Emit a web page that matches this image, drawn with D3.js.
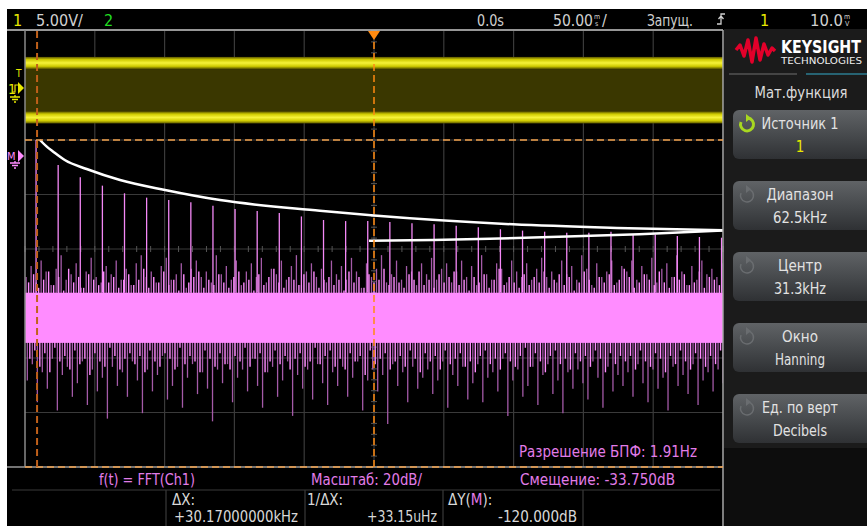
<!DOCTYPE html>
<html><head><meta charset="utf-8">
<script src="https://cdn.jsdelivr.net/npm/d3@7"></script>
<style>
html,body{margin:0;padding:0;background:#fff;}
svg{display:block;}
text{font-family:"Liberation Sans Narrow","DejaVu Sans Condensed","Liberation Sans",sans-serif;}
</style>
</head><body>
<svg id="c" width="867" height="526"></svg>
<script>
// ---------------- DATA ----------------
const spanKHz = [0, 62.5];                 // Диапазон 62.5kHz, Центр 31.3kHz
const dBDomain = [-113.75, 46.25];         // 20 dB/div, Смещение -33.750dB at centre
const dBGrid = [-113.75, -93.75, -73.75, -53.75, -33.75, -13.75, 6.25, 26.25, 46.25];
const kHzGrid = [0, 6.25, 12.5, 18.75, 25, 31.25, 37.5, 43.75, 50, 56.25, 62.5];

const harmonicKHz = [0.99, 2.97, 4.95, 6.93, 8.91, 10.89, 12.87, 14.85, 16.83, 18.81, 20.79, 22.77,
  24.75, 26.73, 28.71, 30.69, 32.67, 34.65, 36.63, 38.61, 40.59, 42.57, 44.55, 46.53, 48.51,
  50.49, 52.47, 54.45, 56.43, 58.41, 60.39, 62.37];
const harmonicDB = [6.25, -2.9, -7.4, -10.5, -13.3, -14.9, -15.8, -16.6, -17.9, -19.1, -19.8, -20.5,
  -21.8, -23.1, -23.5, -23.5, -23.8, -24.3, -24.7, -25.2, -25.8, -26.5, -27.0, -27.4, -27.8,
  -27.8, -27.4, -28.4, -28.4, -29.0, -29.35, -29.6];

const envelopeKHz = [1.34, 1.9, 2.53, 3.6, 5.52, 8.51, 12.54, 17.46, 26.41, 31.25, 43.70, 53.0, 62.5];
const envelopeDB  = [6.25, 4.0, 1.96, -1.2, -4.4, -8.43, -12.1, -15.8, -19.7, -21.5, -24.7, -26.0, -26.9];
const refLineKHz = [30.8, 36.53, 42.5, 48.53, 55.0, 62.5];
const refLineDB  = [-30.7, -30.45, -29.9, -29.2, -28.3, -27.0];

const noiseCoreDB = [-49.8, -68.2];
const noiseHiDB = [
 -44,-40,-46,-38,-42,-47,-41,-36,-45,-43,-39,-48,-42,-37,-44,-46,-40,-43,-38,-45,
 -41,-47,-39,-36,-44,-42,-46,-40,-37,-45,-43,-39,-48,-41,-38,-44,-42,-46,-36,-43,
 -40,-45,-38,-47,-42,-39,-44,-37,-46,-41,-43,-38,-45,-40,-36,-47,-42,-39,-44,-41,
 -46,-38,-43,-40,-45,-37,-42,-48,-39,-44,-41,-36,-46,-43,-38,-45,-40,-42,-47,-39,
 -43,-37,-45,-41,-39,-46,-42,-38,-44,-40,-47,-36,-43,-45,-39,-41,-46,-38,-42,-44,
 -39,-45,-41,-37,-44,-42,-46,-38,-43,-40,-45,-36,-41,-47,-39,-44,-42,-38,-46,-40,
 -42,-38,-45,-40,-43,-37,-46,-41,-39,-44,-36,-42,-47,-40,-45,-38,-43,-41,-44,-39];
const noiseHi2DB = [
 -46,-43,-48,-45,-42,-47,-44,-49,-41,-46,-44,-48,-43,-45,-47,-42,-46,-44,-48,-45,
 -43,-47,-45,-41,-48,-44,-46,-42,-47,-45,-49,-43,-46,-44,-42,-48,-45,-47,-43,-46,
 -48,-44,-42,-46,-45,-49,-43,-47,-44,-41,-46,-48,-44,-45,-47,-43,-46,-42,-48,-45,
 -44,-47,-45,-49,-42,-46,-44,-48,-43,-46,-45,-41,-47,-44,-46,-48,-43,-45,-42,-47,
 -45,-48,-43,-46,-44,-42,-47,-45,-49,-44,-46,-43,-48,-45,-41,-47,-44,-46,-48,-43,
 -47,-44,-46,-42,-48,-45,-43,-47,-44,-49,-46,-42,-45,-48,-44,-46,-43,-47,-45,-41,
 -44,-48,-46,-43,-45,-47,-42,-46,-48,-44,-45,-43,-47,-46,-42,-48,-44,-45,-47,-43];
const noiseLoDB = [
 -82,-76,-90,-79,-85,-74,-93,-80,-77,-88,-83,-75,-91,-78,-86,-81,-96,-77,-84,-79,
 -88,-75,-82,-94,-78,-86,-80,-73,-89,-84,-77,-92,-81,-76,-87,-79,-85,-97,-78,-83,
 -76,-90,-81,-78,-86,-74,-84,-92,-79,-77,-88,-82,-75,-95,-80,-85,-78,-89,-76,-83,
 -91,-79,-84,-77,-88,-81,-75,-93,-82,-78,-86,-80,-98,-76,-84,-79,-90,-77,-85,-81,
 -78,-87,-82,-75,-92,-80,-84,-77,-89,-83,-76,-90,-81,-79,-86,-74,-95,-82,-78,-88,
 -84,-77,-91,-80,-76,-87,-82,-94,-79,-85,-78,-83,-89,-75,-81,-92,-77,-86,-80,-84,
 -79,-88,-76,-83,-90,-78,-85,-81,-93,-77,-84,-80,-87,-76,-91,-82,-79,-86,-78,-83];
const noiseLo2DB = [
 -74,-71,-77,-72,-79,-70,-75,-73,-78,-71,-76,-74,-80,-72,-75,-77,-70,-73,-78,-74,
 -72,-76,-73,-79,-71,-75,-77,-72,-74,-78,-70,-76,-73,-75,-79,-71,-74,-77,-72,-76,
 -78,-73,-75,-70,-77,-74,-72,-79,-75,-71,-76,-73,-78,-74,-72,-77,-75,-70,-76,-73,
 -71,-77,-74,-78,-72,-75,-73,-80,-71,-76,-74,-72,-78,-75,-73,-77,-71,-74,-79,-72,
 -75,-73,-78,-71,-76,-74,-72,-77,-75,-79,-73,-71,-76,-74,-78,-72,-75,-77,-73,-70,
 -77,-72,-75,-79,-73,-71,-76,-74,-78,-72,-75,-73,-77,-71,-74,-79,-72,-76,-73,-75,
 -73,-78,-71,-75,-77,-72,-74,-79,-73,-76,-71,-75,-78,-72,-74,-77,-73,-76,-71,-74];

const ch1LevelsV = [2.3, -2.7];           // square wave high / low (5.00V/)
const ch1NoiseV = 0.55;
const cursorXKHz = [1.08, 31.25];
const cursorYDB = [6.25, -113.75];

const topBar = [
  {t:"1", c:"#e8e800"}, {t:"5.00V/", c:"#d0d0d0"}, {t:"2", c:"#22dd22"},
  {t:"0.0s", c:"#d0d0d0"}, {t:"Запущ.", c:"#d0d0d0"}, {t:"1", c:"#e8e800"}
];
const menuTitle = "Мат.функция";
const buttonLabels = ["Источник 1", "Диапазон", "Центр", "Окно", "Ед. по верт"];
const buttonValues = ["1", "62.5kHz", "31.3kHz", "Hanning", "Decibels"];
const statusRow = ["f(t) = FFT(Ch1)", "Масштаб: 20dB/", "Смещение: -33.750dB"];
const resolutionText = "Разрешение БПФ: 1.91Hz";
const cursorLabels = ["ΔX:", "1/ΔX:", "ΔY("];
const cursorValues = ["+30.17000000kHz", "+33.15uHz", "-120.000dB"];

// ---------------- DRAW ----------------
const svg = d3.select("#c");
const L = 25, R = 723, T = 31, B = 467;
const x = d3.scaleLinear().domain(spanKHz).range([L, R]);
const y = d3.scaleLinear().domain(dBDomain).range([B, T]);
const ch1Y = d3.scaleLinear().domain([0, 1]).range([88, 88 - 54.5/5]); // 5 V/div, ground at marker

const defs = svg.append("defs");
const gb = defs.append("linearGradient").attr("id","btn").attr("x1",0).attr("y1",0).attr("x2",0).attr("y2",1);
gb.append("stop").attr("offset","0%").attr("stop-color","#606366");
gb.append("stop").attr("offset","55%").attr("stop-color","#45484b");
gb.append("stop").attr("offset","100%").attr("stop-color","#2f3134");
const gy = defs.append("linearGradient").attr("id","yb").attr("x1",0).attr("y1",0).attr("x2",0).attr("y2",1);
[["0%","#5a5500"],["22%","#cfcb00"],["50%","#f6f23a"],["78%","#cfcb00"],["100%","#5a5500"]]
  .forEach(s=>gy.append("stop").attr("offset",s[0]).attr("stop-color",s[1]));
const clip = defs.append("clipPath").attr("id","plot");
clip.append("rect").attr("x",L).attr("y",T).attr("width",R-L).attr("height",B-T);

// backgrounds
svg.append("rect").attr("x",0).attr("y",0).attr("width",867).attr("height",526).attr("fill","#ffffff");
svg.append("rect").attr("x",7).attr("y",9).attr("width",860).attr("height",517).attr("fill","#000");
svg.append("rect").attr("x",724).attr("y",29).attr("width",143).attr("height",497).attr("fill","#1b1b1b");
svg.append("rect").attr("x",724).attr("y",448).attr("width",143).attr("height",78).attr("fill","#0d0d0d");

// grid
const grid = svg.append("g");
grid.selectAll("line.v").data(kHzGrid.slice(1,-1)).join("line")
  .attr("x1",d=>x(d)).attr("x2",d=>x(d)).attr("y1",T).attr("y2",B)
  .attr("stroke","#3a3a3a").attr("stroke-width",1.2);
grid.selectAll("line.h").data(dBGrid.slice(1,-1)).join("line")
  .attr("x1",L).attr("x2",R).attr("y1",d=>y(d)).attr("y2",d=>y(d))
  .attr("stroke","#3a3a3a").attr("stroke-width",1.2);
const cx = x(31.25), cy = y(-33.75);
grid.selectAll("line.mx").data(d3.range(0, 62.5001, 1.25)).join("line")
  .attr("x1",d=>x(d)).attr("x2",d=>x(d)).attr("y1",cy-3).attr("y2",cy+3)
  .attr("stroke","#555").attr("stroke-width",1);
grid.selectAll("line.my").data(d3.range(-113.75, 46.26, 4)).join("line")
  .attr("x1",cx-3).attr("x2",cx+3).attr("y1",d=>y(d)).attr("y2",d=>y(d))
  .attr("stroke","#555").attr("stroke-width",1);

// Channel 1 band
const ch = svg.append("g").attr("clip-path","url(#plot)");
ch.append("rect").attr("x",L).attr("width",R-L)
  .attr("y",ch1Y(ch1LevelsV[0])).attr("height",ch1Y(ch1LevelsV[1])-ch1Y(ch1LevelsV[0]))
  .attr("fill","#3a3700");
ch1LevelsV.forEach(v=>{
  ch.append("rect").attr("x",L).attr("width",R-L)
    .attr("y",ch1Y(v+ch1NoiseV)).attr("height",ch1Y(v-ch1NoiseV)-ch1Y(v+ch1NoiseV))
    .attr("fill","url(#yb)");
});

// FFT noise
const N = noiseHiDB.length;
const binKHz = d3.scaleLinear().domain([0, N-1]).range([0.1, 62.4]);
const fft = svg.append("g").attr("clip-path","url(#plot)");
function spikes(data, dx, base, color, w){
  fft.append("g").selectAll("line").data(data).join("line")
    .attr("x1",(d,i)=>x(binKHz(i))+dx).attr("x2",(d,i)=>x(binKHz(i))+dx)
    .attr("y1",y(base)).attr("y2",d=>y(d))
    .attr("stroke",color).attr("stroke-width",w);
}
spikes(noiseHiDB, 0, noiseCoreDB[0]-2, "#a45aa8", 1.3);
spikes(noiseLoDB, 1.2, noiseCoreDB[1]+2, "#a45aa8", 1.3);
spikes(noiseHi2DB, 2.5, noiseCoreDB[0]-2, "#ff8cff", 1.4);
spikes(noiseLo2DB, 3.7, noiseCoreDB[1]+2, "#ff8cff", 1.4);
fft.append("rect").attr("x",L).attr("width",R-L)
  .attr("y",y(noiseCoreDB[0])).attr("height",y(noiseCoreDB[1])-y(noiseCoreDB[0]))
  .attr("fill","#ff8cff");
fft.selectAll("line.h").data(harmonicKHz).join("line")
  .attr("x1",d=>x(d)).attr("x2",d=>x(d))
  .attr("y1",y(noiseCoreDB[0])).attr("y2",(d,i)=>y(harmonicDB[i]))
  .attr("stroke","#f488f6").attr("stroke-width",1.3);

// white overlay curves
const lineGen = d3.line().x(d=>x(d[0])).y(d=>y(d[1])).curve(d3.curveMonotoneX);
fft.append("path").datum(envelopeKHz.map((k,i)=>[k,envelopeDB[i]])).attr("d",lineGen)
  .attr("fill","none").attr("stroke","#ffffff").attr("stroke-width",2.5);
fft.append("path").datum(refLineKHz.map((k,i)=>[k,refLineDB[i]])).attr("d",lineGen)
  .attr("fill","none").attr("stroke","#ffffff").attr("stroke-width",2.5);

// graticule border
svg.append("line").attr("x1",7).attr("x2",R).attr("y1",30).attr("y2",30).attr("stroke","#c8c8c8").attr("stroke-width",1.5);
svg.append("line").attr("x1",7).attr("x2",R).attr("y1",B).attr("y2",B).attr("stroke","#9a9a9a").attr("stroke-width",1.5);
svg.append("line").attr("x1",L).attr("x2",L).attr("y1",30).attr("y2",B).attr("stroke","#8a8a8a").attr("stroke-width",1.5);
svg.append("line").attr("x1",R).attr("x2",R).attr("y1",30).attr("y2",526).attr("stroke","#a8a8a8").attr("stroke-width",1.5);

// cursors
const cur = svg.append("g");
cur.selectAll("line.cy").data(cursorYDB).join("line")
  .attr("x1",L).attr("x2",R).attr("y1",d=>y(d)).attr("y2",d=>y(d))
  .attr("stroke","#f2a24e").attr("stroke-width",1.5).attr("stroke-dasharray","7,4");
cur.selectAll("line.cx").data(cursorXKHz).join("line")
  .attr("x1",d=>x(d)).attr("x2",d=>x(d)).attr("y1",T).attr("y2",B)
  .attr("stroke",(d,i)=>i===0?"#c0601a":"#ff8a10").attr("stroke-width",(d,i)=>i===0?2:1.5)
  .attr("stroke-dasharray","7,4");
cur.append("path").attr("d",`M${cx-6},${T} L${cx+6},${T} L${cx},${T+9}Z`).attr("fill","#ff8a10");

// left markers
const mk = svg.append("g");
mk.append("text").attr("x",16).attr("y",77).attr("font-size",10).attr("fill","#e8e800").text("T");
mk.append("text").attr("x",8).attr("y",94).attr("font-size",14).attr("fill","#e8e800").text("1");
mk.append("path").attr("d","M13,92 L15,92 L15,85 L18,85").attr("stroke","#e8e800").attr("fill","none").attr("stroke-width",1.2);
mk.append("path").attr("d","M18,82 L24,88 L18,94Z").attr("fill","#e8e800");
mk.append("path").attr("d","M15,95 L15,97 M10,97 L20,97 M12,99.5 L18,99.5 M14,102 L16,102").attr("stroke","#e8e800").attr("stroke-width",1.3);
mk.append("text").attr("x",7).attr("y",160).attr("font-size",11).attr("fill","#ff8cff").text("M");
mk.append("path").attr("d","M18,150 L24,156 L18,162Z").attr("fill","#ff8cff");
mk.append("path").attr("d","M15,161 L15,163 M10,163 L20,163 M12,165.5 L18,165.5 M14,168 L16,168").attr("stroke","#ff8cff").attr("stroke-width",1.3);

// top bar
const tb = svg.append("g").attr("font-size",16);
const tbPos = [[13,null],[36,47],[104,null],[477,27],[647,46],[760,null]];
topBar.forEach((d,i)=>{
  const t = tb.append("text").attr("x",tbPos[i][0]).attr("y",26).attr("fill",d.c).text(d.t);
  if (tbPos[i][1]) t.attr("textLength",tbPos[i][1]).attr("lengthAdjust","spacingAndGlyphs");
});
tb.append("text").attr("x",553).attr("y",26).attr("fill","#d0d0d0").attr("textLength",40).attr("lengthAdjust","spacingAndGlyphs").text("50.00");
tb.append("text").attr("x",594).attr("y",19).attr("font-size",7).attr("fill","#d0d0d0").text("m");
tb.append("text").attr("x",595).attr("y",26).attr("font-size",7).attr("fill","#d0d0d0").text("s");
tb.append("text").attr("x",602).attr("y",26).attr("fill","#d0d0d0").text("/");
tb.append("text").attr("x",810).attr("y",26).attr("fill","#d0d0d0").attr("textLength",33).attr("lengthAdjust","spacingAndGlyphs").text("10.0");
tb.append("text").attr("x",844).attr("y",19).attr("font-size",7).attr("fill","#d0d0d0").text("m");
tb.append("text").attr("x",845).attr("y",26).attr("font-size",7).attr("fill","#d0d0d0").text("V");
tb.append("path").attr("d","M717,24 L721,24 L721,14 L725,14 M718.5,19 L721,16 L723.5,19").attr("stroke","#d0d0d0").attr("fill","none").attr("stroke-width",1.3);

// right panel: logo
const lg = svg.append("g");
lg.append("path").attr("d",d3.line()([[736,50],[740,45],[744,56],[748,40],[752,62],[756,38],[760,60],[764,44],[768,55],[772,48],[775,51]]))
  .attr("fill","none").attr("stroke","#e3002a").attr("stroke-width",3.5).attr("stroke-linejoin","round");
lg.append("text").attr("x",781).attr("y",53).attr("font-family","Liberation Sans, Arial, sans-serif").attr("font-weight","bold")
  .attr("font-size",17).attr("fill","#fff").attr("textLength",80).attr("lengthAdjust","spacingAndGlyphs").text("KEYSIGHT");
lg.append("text").attr("x",781).attr("y",64).attr("font-family","Liberation Sans, Arial, sans-serif")
  .attr("font-size",9).attr("fill","#eee").attr("textLength",81).attr("lengthAdjust","spacingAndGlyphs").text("TECHNOLOGIES");
lg.append("line").attr("x1",729).attr("x2",797).attr("y1",74).attr("y2",74).attr("stroke","#555").attr("stroke-width",1.5);
lg.append("line").attr("x1",806).attr("x2",867).attr("y1",74).attr("y2",74).attr("stroke","#2c7d92").attr("stroke-width",1.5);
lg.append("text").attr("x",801).attr("y",98).attr("text-anchor","middle").attr("font-size",15)
  .attr("fill","#dcdcdc").attr("textLength",93).attr("lengthAdjust","spacingAndGlyphs").text(menuTitle);

// buttons
const btnTop = [110, 181, 252, 323, 394];
const labW = [77, 67, 44, 36, 76], valW = [null, 54, 52, 50, 54];
const bt = svg.append("g");
buttonLabels.forEach((lab,i)=>{
  const g = bt.append("g").attr("transform",`translate(0,${btnTop[i]})`);
  g.append("rect").attr("x",733).attr("y",0).attr("width",150).attr("height",49).attr("rx",6).attr("fill","url(#btn)");
  g.append("text").attr("x",800).attr("y",19).attr("text-anchor","middle").attr("font-size",15)
    .attr("fill","#e2e2e2").attr("textLength",labW[i]).attr("lengthAdjust","spacingAndGlyphs").text(lab);
  const v = g.append("text").attr("x",800).attr("y",41.5).attr("text-anchor","middle").attr("font-size",15)
    .attr("fill",i===0?"#e8e800":"#e2e2e2").text(buttonValues[i]);
  if (valW[i]) v.attr("textLength",valW[i]).attr("lengthAdjust","spacingAndGlyphs");
  const col = i===0?"#a8d820":"#6a6d70";
  g.append("path").attr("d","M741,12 A6.5,6.5 0 1 0 748,8").attr("fill","none").attr("stroke",col).attr("stroke-width",i===0?3:1.5);
  g.append("path").attr("d","M746,4 L751,8 L746,12Z").attr("fill",col);
});

// in-plot resolution text
svg.append("text").attr("x",519).attr("y",457).attr("font-size",15).attr("fill","#e27ce8")
  .attr("textLength",178).attr("lengthAdjust","spacingAndGlyphs").text(resolutionText);

// bottom status
const bs = svg.append("g").attr("font-size",15);
bs.append("text").attr("x",147).attr("y",485).attr("text-anchor","middle").attr("fill","#e27ce8")
  .attr("textLength",96).attr("lengthAdjust","spacingAndGlyphs").text(statusRow[0]);
bs.append("text").attr("x",311).attr("y",485).attr("fill","#e27ce8")
  .attr("textLength",111).attr("lengthAdjust","spacingAndGlyphs").text(statusRow[1]);
bs.append("text").attr("x",520).attr("y",485).attr("fill","#e27ce8")
  .attr("textLength",155).attr("lengthAdjust","spacingAndGlyphs").text(statusRow[2]);
bs.append("line").attr("x1",12).attr("x2",720).attr("y1",490).attr("y2",490).attr("stroke","#3a3a3a").attr("stroke-width",1.2);
[166,305,443,583].forEach(v=>bs.append("line").attr("x1",v).attr("x2",v).attr("y1",490).attr("y2",526).attr("stroke","#3a3a3a").attr("stroke-width",1.2));
bs.append("text").attr("x",172).attr("y",505).attr("fill","#d8d8d8").text(cursorLabels[0]);
bs.append("text").attr("x",307).attr("y",505).attr("fill","#d8d8d8").text(cursorLabels[1]);
const dy = bs.append("text").attr("x",448).attr("y",505).attr("fill","#d8d8d8");
dy.append("tspan").text(cursorLabels[2]);
dy.append("tspan").attr("fill","#e27ce8").text("M");
dy.append("tspan").text("):");
const cvx = [174, 367, 498], cvw = [124, 70, 79];
cursorValues.forEach((v,i)=>bs.append("text").attr("x",cvx[i]).attr("y",522).attr("fill","#d8d8d8")
  .attr("textLength",cvw[i]).attr("lengthAdjust","spacingAndGlyphs").text(v));
</script>
</body></html>
